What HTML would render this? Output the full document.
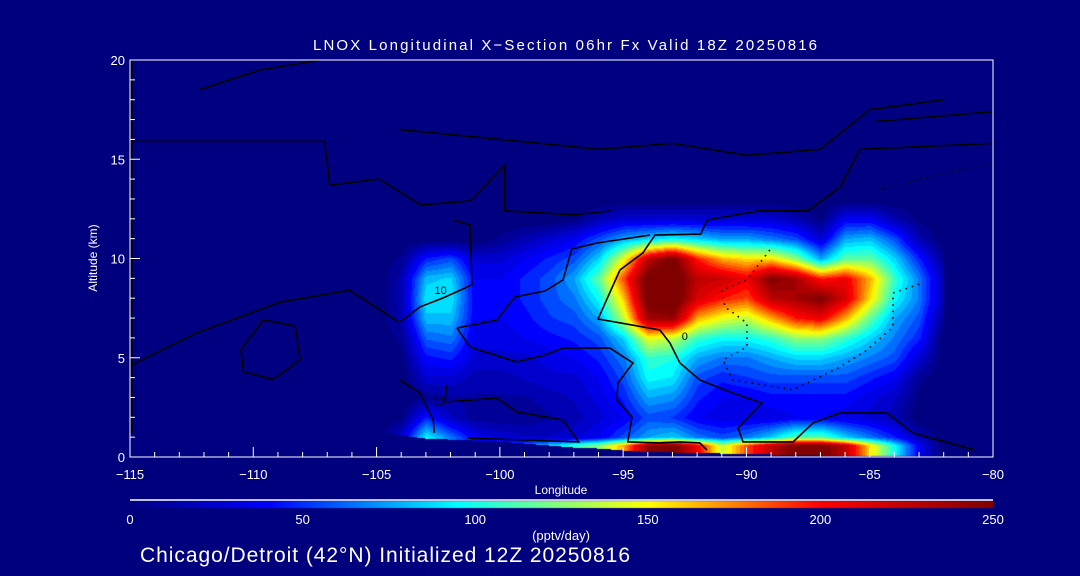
<!DOCTYPE html>
<html><head><meta charset="utf-8">
<style>
html,body{margin:0;padding:0;background:#00007f;}
#wrap{position:relative;width:1080px;height:576px;background:#00007f;overflow:hidden;font-family:"Liberation Sans",sans-serif;color:#fff;}
canvas,svg{position:absolute;left:0;top:0;}
</style></head>
<body>
<div id="wrap">
<canvas id="heat" width="1080" height="576"></canvas>
<svg id="svg" width="1080" height="576"></svg>
</div>
<script>
// ---- data ----
const lons = [-105,-104,-103,-102,-101,-100,-99,-98,-97,-96,-95,-94,-93,-92,-91,-90,-89,-88,-87,-86,-85,-84,-83,-82];
const alts = [0,0.6,1,2,3,4,5,6,7,8,9,10,11,12,13];
const row0  = [0,20,95,70,60,60,70,90,110,130,170,250,260,210,140,190,230,260,260,230,160,100,40,0];
const row06 = [0,20,95,70,60,60,70,90,110,130,170,250,260,210,140,190,230,260,260,230,160,100,40,0];
const row1  = [0,30,100,70,40,30,25,25,30,40,60,80,90,70,60,70,90,120,120,90,70,50,20,0];
const row2  = [0,5,50,25,10,10,10,15,20,30,40,60,55,40,35,35,35,40,40,35,30,20,0,0];
const row3  = [0,0,10,15,15,15,15,20,25,35,50,80,75,50,40,40,45,45,45,45,35,25,5,0];
const row4  = [0,0,30,30,20,20,25,30,30,40,60,100,95,60,50,55,60,60,60,60,50,40,10,0];
const row5  = [0,5,45,50,30,30,30,35,40,50,70,110,105,80,70,70,80,90,90,80,70,60,30,0];
const row6  = [0,10,65,70,35,35,40,45,50,60,90,150,140,110,100,100,110,130,130,110,90,70,50,0];
const row7  = [0,20,85,85,40,40,45,55,60,80,140,240,245,170,150,140,170,200,210,170,120,80,60,10];
const row8  = [0,20,95,95,40,40,50,60,70,100,165,265,270,220,200,190,230,240,255,220,160,100,70,20];
const row9  = [0,20,85,90,40,40,50,60,80,120,190,265,270,230,225,210,255,240,200,210,170,110,70,20];
const row10 = [0,10,50,60,30,30,40,50,60,90,150,230,260,200,170,160,160,130,80,120,120,90,50,10];
const row11 = [0,0,0,0,0,10,20,30,40,60,80,90,100,90,80,80,70,60,30,80,85,60,20,0];
const row12 = [0,0,0,0,0,0,0,0,5,20,30,30,30,30,30,30,30,20,5,40,40,20,5,0];
const row13 = [0,0,0,0,0,0,0,0,0,0,0,0,0,0,0,0,0,0,0,0,0,0,0,0];
const terrain = [1.3,1.1,0.95,0.9,0.85,0.8,0.7,0.6,0.5,0.45,0.35,0.28,0.25,0.22,0.2,0.18,0.15,0.12,0.1,0.1,0.1,0.1,0.1,0.1];
const xTicks = [-115,-110,-105,-100,-95,-90,-85,-80];
const yTicks = [0,5,10,15,20];
const cbTicks = [0,50,100,150,200,250];
// contours in [lon, alt]
const contourA = [[-115,15.9],[-107.1,15.9],[-106.9,13.7],[-104.9,14.0],[-103.2,12.7],[-101.2,12.9],[-99.8,14.7],[-99.8,12.4],[-97,12.2],[-95.5,12.4]];
const contourB = [[-104.05,6.8],[-103.24,7.56],[-102.31,8.01],[-101.13,8.67],[-101.21,11.69],[-101.9,11.94]];
const contourC = [[-91.6,11.94],[-91.85,11.23],[-93.71,11.18],[-94.2,10.28],[-95.13,9.42],[-96.02,6.95],[-93.51,6.4],[-93.1,5.74],[-92.7,4.74],[-91.89,3.88],[-90.55,3.22],[-89.37,2.72],[-90.34,1.46],[-90.14,0.76],[-88.11,0.76],[-87.3,1.71],[-86.21,2.22],[-84.3,2.22],[-83.25,1.21],[-80.73,0.35]];
const contourC2 = [[-91.6,11.94],[-89.5,12.4],[-87.5,12.4],[-86.2,13.6],[-85.4,15.5],[-80,15.8]];
const contourD = [[-101.74,6.5],[-100.12,6.9],[-99.39,8.06],[-98.17,8.36],[-97.44,8.92],[-97.08,10.48],[-96.06,10.78],[-93.91,11.18]];
const contourE = [[-101.74,6.5],[-101.21,5.54],[-99.31,4.79],[-98.17,5.14],[-97.44,5.49],[-95.54,5.49],[-94.6,4.74],[-95.21,3.73],[-95.25,2.87],[-94.64,2.02],[-94.81,0.76],[-93.51,0.71],[-92.7,0.76],[-91.89,0.71],[-91.6,0.35]];
const contourF = [[-104.05,3.88],[-103.24,3.22],[-102.7,1.86],[-102.66,1.21]];
const contourG = [[-102.15,3.63],[-102.23,2.77],[-100.12,2.97],[-99.31,2.27],[-97.44,1.86],[-96.8,0.76],[-101.3,0.95]];
const contourH = [[-115,4.6],[-112.2,6.3],[-108.9,7.8],[-106.1,8.4],[-104.1,6.8]];
const contourI = [[-110.5,5.4],[-109.6,6.9],[-108.3,6.6],[-108.1,4.9],[-109.2,3.9],[-110.4,4.3],[-110.5,5.4]];
const contourJ = [[-112.2,18.5],[-109.7,19.5],[-107.3,20]];
const contourK = [[-104.1,16.5],[-100,16.0],[-96,15.5],[-93,15.8],[-90,15.2],[-87,15.5],[-85,17.5],[-82,18]];
const contourL = [[-84.8,16.9],[-80,17.4]];
const contourDot = [[-89.05,10.43],[-89.98,8.92],[-90.99,8.41],[-90.87,7.56],[-89.98,6.75],[-89.98,5.54],[-90.95,4.89],[-90.55,3.88],[-88.11,3.38],[-86.21,4.53],[-85.11,5.39],[-84.06,6.55],[-84.06,8.26],[-82.84,8.77]];
const contourDot2 = [[-84.5,13.5],[-82,14.3],[-80,14.8]];

// ---- axes ----
const X0=130,X1=993,Y0=457,Y1=60;
const xs = v => X0 + (v+115)/35*(X1-X0);
const ys = v => Y0 - v/20*(Y0-Y1);
const rows=[row0,row06,row1,row2,row3,row4,row5,row6,row7,row8,row9,row10,row11,row12,row13];

function cmap(v){
  const st=[[0,[0,0,128]],[40,[0,0,255]],[95,[0,255,255]],[150,[255,255,0]],[200,[255,0,0]],[250,[128,0,0]]];
  v=Math.max(0,Math.min(250,v));
  for(let i=1;i<st.length;i++){ if(v<=st[i][0]){const a=st[i-1],b=st[i];const t=(v-a[0])/(b[0]-a[0]);
    return [0,1,2].map(k=>Math.round(a[1][k]+(b[1][k]-a[1][k])*t));}}
  return [128,0,0];
}
function sample(lon,alt){
  if(lon<lons[0]||lon>lons[lons.length-1]||alt>alts[alts.length-1]) return 0;
  let i=Math.min(lons.length-2,Math.floor(lon-lons[0]));let tx=(lon-lons[i])/(lons[i+1]-lons[i]);
  const ter=terrain[i]*(1-tx)+terrain[i+1]*tx; if(alt<ter) return -1;
  let j=0; while(j<alts.length-2&&alt>alts[j+1]) j++;
  let ty=(alt-alts[j])/(alts[j+1]-alts[j]);
  const a=rows[j][i]*(1-tx)+rows[j][i+1]*tx, b=rows[j+1][i]*(1-tx)+rows[j+1][i+1]*tx;
  return a*(1-ty)+b*ty;
}
const cv=document.getElementById('heat'),ctx=cv.getContext('2d');
ctx.fillStyle='#00007f';ctx.fillRect(0,0,1080,576);
const img=ctx.createImageData(X1-X0,Y0-Y1);
for(let py=0;py<Y0-Y1;py++){for(let px=0;px<X1-X0;px++){
  const lon=-115+px/(X1-X0)*35, alt=(Y0-Y1-py)/(Y0-Y1)*20;
  let v=sample(lon,alt); let c=v<0?[0,0,128]:cmap(Math.floor(v/8)*8);
  const k=(py*(X1-X0)+px)*4; img.data[k]=c[0];img.data[k+1]=c[1];img.data[k+2]=c[2];img.data[k+3]=255;}}
ctx.putImageData(img,X0,Y1);
// colorbar
for(let px=0;px<=X1-X0;px++){const c=cmap(px/(X1-X0)*250);ctx.fillStyle=`rgb(${c})`;ctx.fillRect(X0+px,501,1,7);}

// ---- svg overlay ----
const svg=document.getElementById('svg');const NS='http://www.w3.org/2000/svg';
function el(t,attrs,txt){const e=document.createElementNS(NS,t);for(const k in attrs)e.setAttribute(k,attrs[k]);if(txt!==undefined)e.textContent=txt;svg.appendChild(e);return e;}
const contours=[contourA,contourB,contourC,contourC2,contourD,contourE,contourF,contourG,contourH,contourI,contourJ,contourK,contourL];
contours.forEach((c)=>{const p=el('polyline',{points:c.map(q=>xs(q[0])+','+ys(q[1])).join(' '),fill:'none',stroke:'#000',"stroke-width":1.6});

});
[contourDot,contourDot2].forEach(c=>{const p=el('polyline',{points:c.map(q=>xs(q[0])+','+ys(q[1])).join(' '),fill:'none',stroke:'#000',"stroke-width":1.6,"stroke-dasharray":"1.5 5"});

});
// contour labels
[[-102.4,8.2,'10'],[-92.5,5.9,'0'],[-102.5,2.6,'10']].forEach(l=>{const t=el('text',{x:xs(l[0]),y:ys(l[1]),fill:'#000',"font-size":11,"text-anchor":"middle"},l[2]);

});
// left thick bar
const lb=el('line',{x1:X0+1,y1:Y1,x2:X0+1,y2:ys(1.2),stroke:'#000',"stroke-width":3});

// frame
const fr=el('rect',{x:X0,y:Y1,width:X1-X0,height:Y0-Y1,fill:'none',stroke:'#fff',"stroke-width":1});

// x ticks
for(let v=-115;v<=-80;v++){const major=v%5===0;const tk=el('line',{x1:xs(v),x2:xs(v),y1:Y0,y2:Y0-(major?10:5),stroke:'#fff'});
}
xTicks.forEach(v=>{const t=el('text',{x:xs(v),y:479,fill:'#fff',"font-size":13,"text-anchor":"middle"},String(v).replace('-','\u2212'));
});
for(let v=0;v<=20;v++){const major=v%5===0;const tk=el('line',{x1:X0,x2:X0+(major?10:5),y1:ys(v),y2:ys(v),stroke:'#fff'});
}
yTicks.forEach(v=>{const t=el('text',{x:125,y:ys(v)+5,fill:'#fff',"font-size":13,"text-anchor":"end"},String(v));
});
const xl=el('text',{x:561,y:494,fill:'#fff',"font-size":12,"text-anchor":"middle"},'Longitude');

const yl=el('text',{x:97,y:258,fill:'#fff',"font-size":12,"text-anchor":"middle",transform:'rotate(-90 97 258)'},'Altitude (km)');

const ti=el('text',{x:313,y:50,fill:'#fff',"font-size":15,textLength:504,lengthAdjust:'spacing',"xml:space":"preserve"},'LNOX Longitudinal X\u2212Section 06hr  Fx Valid 18Z 20250816');

// colorbar
const cbl=el('line',{x1:X0,x2:X1,y1:500,y2:500,stroke:'#fff',"stroke-width":1.5});

cbTicks.forEach(v=>{const t=el('text',{x:X0+v/250*(X1-X0),y:524,fill:'#fff',"font-size":13,"text-anchor":"middle"},String(v));
});
const cu=el('text',{x:561,y:540,fill:'#fff',"font-size":13,"text-anchor":"middle"},'(pptv/day)');

const sub=el('text',{x:140,y:562,fill:'#fff',"font-size":21,textLength:490,lengthAdjust:'spacing'},'Chicago/Detroit (42\u00B0N) Initialized 12Z 20250816');

</script>
</body></html>
